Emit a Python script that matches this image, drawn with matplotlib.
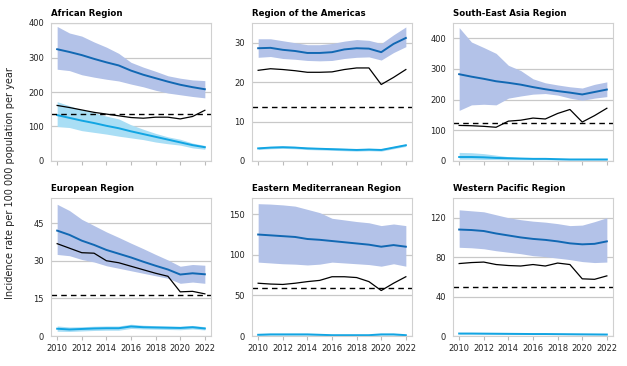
import numpy as np
import matplotlib.pyplot as plt

years = np.arange(2010, 2023)

regions = ['African Region', 'Region of the Americas', 'South-East Asia Region',
           'European Region', 'Eastern Mediterranean Region', 'Western Pacific Region']

# dark blue series (central estimate) and its uncertainty band
dark_mid = [
    [324, 316, 307, 296, 286, 277, 262, 250, 240, 230, 221, 214, 208],
    [28.6, 28.7, 28.2, 27.9, 27.4, 27.4, 27.6, 28.3, 28.6, 28.5, 27.6, 29.7, 31.2],
    [283, 275, 268, 260, 255, 249, 241, 234, 228, 223, 217, 225, 233],
    [42.0, 40.3, 38.0, 36.3, 34.3, 32.8, 31.3, 29.6, 28.0, 26.5, 24.5, 25.0, 24.6],
    [125, 124, 123, 122, 119.5, 118.5, 117, 115.5, 114, 112.5, 110, 112, 110],
    [108, 107.5, 106.5, 104, 102, 100, 98.5, 97.5, 96, 94, 93, 93.5, 96],
]
dark_hi = [
    [390, 371, 362, 345, 330, 312, 286, 272, 260, 247, 240, 235, 233],
    [31, 31, 30.5, 30, 29.5, 29.5, 29.8, 30.4, 30.8, 30.6, 29.8, 32, 34],
    [435, 388, 370, 351, 312, 295, 268, 255, 248, 242, 238, 250, 258],
    [52.5, 50, 46.5, 44, 41.5, 39.3, 37, 34.8, 32.5, 30.3, 27.8, 28.5, 28.2],
    [163, 162.5, 161.5, 160, 156, 152, 145, 143, 141, 139.5, 136, 138, 136],
    [128, 127, 126, 123, 120, 118, 116.5, 115.5, 114, 112, 112.5, 116, 120],
]
dark_lo = [
    [266, 262, 250, 243, 237, 232, 223, 215, 205, 197, 192, 187, 183],
    [26.3, 26.5, 26, 25.8, 25.5, 25.4, 25.5, 26, 26.3, 26.4, 25.6, 27.5, 29],
    [165, 183, 185, 183, 205, 212, 218, 220, 215, 205, 198, 205, 210],
    [32.5, 32, 30.5, 29.5, 28, 27, 26, 25, 24, 23, 21, 21.5, 21],
    [91, 90, 89, 88.5, 87.5, 88.5, 91, 90, 89, 88, 86, 89, 86],
    [90, 89.5, 88.5, 86.5, 85, 83.5, 81.5, 80.5, 79, 77.5, 75.5, 74.5, 75],
]

# light blue series and its band
light_mid = [
    [133, 125, 117, 110, 102, 95, 86, 78, 70, 62, 54, 46, 40],
    [3.2, 3.4, 3.5, 3.4, 3.2, 3.1, 3.0, 2.9, 2.8, 2.9, 2.8, 3.4, 4.0],
    [13, 13, 12, 10, 9, 8, 7, 7, 6, 5, 5, 5, 5],
    [2.9, 2.6, 2.8, 3.0, 3.1, 3.1, 3.8, 3.5, 3.4, 3.3, 3.2, 3.5, 3.0],
    [1.5, 2, 2, 2, 2, 1.5, 1, 1, 1, 1, 2, 2, 1],
    [2.5, 2.5, 2.4, 2.3, 2.2, 2.1, 2.0, 2.0, 1.9, 1.8, 1.7, 1.6, 1.5],
]
light_hi = [
    [172, 160, 148, 140, 130, 122, 105, 92, 80, 70, 63, 52, 45],
    [3.5, 3.7, 3.8, 3.7, 3.5, 3.4, 3.3, 3.2, 3.1, 3.2, 3.1, 3.7, 4.3],
    [28, 27, 24, 19, 14, 11, 9, 8, 7, 6, 6, 6, 6],
    [4.0, 3.6, 3.7, 3.9, 4.0, 4.0, 4.7, 4.3, 4.1, 4.0, 3.9, 4.2, 3.7],
    [2.5, 3, 3, 3, 3, 2.5, 2, 2, 2, 2, 3, 3, 2],
    [3.0, 3.0, 2.9, 2.8, 2.7, 2.6, 2.5, 2.5, 2.4, 2.3, 2.2, 2.1, 2.0],
]
light_lo = [
    [100, 97, 88, 83, 78, 72, 67, 62, 55, 50, 46, 38, 34],
    [2.9, 3.1, 3.2, 3.1, 2.9, 2.8, 2.7, 2.6, 2.5, 2.6, 2.5, 3.1, 3.7],
    [6, 6, 5, 5, 4, 4, 4, 4, 3, 3, 3, 3, 3],
    [1.9, 1.8, 2.0, 2.2, 2.3, 2.3, 3.0, 2.8, 2.7, 2.6, 2.5, 2.8, 2.4],
    [0.5, 1, 1, 1, 1, 0.5, 0, 0, 0, 0, 1, 1, 0],
    [2.0, 2.0, 1.9, 1.8, 1.7, 1.6, 1.5, 1.5, 1.4, 1.3, 1.2, 1.1, 1.0],
]

# black series and dashed reference level
black = [
    [161, 155, 148, 141, 136, 131, 126, 124, 127, 127, 122, 129, 147],
    [23.0, 23.4, 23.2, 22.9, 22.5, 22.5, 22.6, 23.2, 23.6, 23.6, 19.4, 21.2, 23.2],
    [116, 115, 113, 110, 130, 133, 140, 137, 155, 168, 127, 148, 172],
    [36.8, 35.0, 33.2, 33.0, 30.0, 29.2, 27.8, 26.4, 25.0, 23.8, 17.6, 17.8, 16.8],
    [65, 64, 63.5, 65, 67, 68.5, 73, 73, 72, 67, 56, 65, 73],
    [73.5, 74.5, 75, 72.5, 71.5, 71, 72.5, 71, 74, 72.5, 58, 57.5, 61],
]
dashed = [135, 13.7, 125, 16.5, 59, 50]

ylims = [400, 35, 450, 55, 170, 140]
yticks = [[0, 100, 200, 300, 400], [0, 10, 20, 30], [0, 100, 200, 300, 400],
          [0, 15, 30, 45], [0, 50, 100, 150], [0, 40, 80, 120]]

fig = plt.figure(figsize=(6.27, 3.66), dpi=100)
W, H = 627, 366
lefts = [51, 252, 453]
tops = [23, 198]
aw, ah = 160, 138

grid_c = '#c8c8c8'
for i, name in enumerate(regions):
    r, c = divmod(i, 3)
    ax = fig.add_axes([lefts[c] / W, 1 - (tops[r] + ah) / H, aw / W, ah / H])
    ax.fill_between(years, dark_lo[i], dark_hi[i], color='#b3c2e8', lw=0)
    ax.fill_between(years, light_lo[i], light_hi[i], color='#a9def5', lw=0)
    ax.plot(years, dark_mid[i], color='#1168b3', lw=1.4)
    ax.plot(years, light_mid[i], color='#12a5e3', lw=1.4)
    ax.plot(years, black[i], color='black', lw=0.9)
    ax.axhline(dashed[i], color='black', lw=1.0, ls=(0, (4, 3)))
    ax.set_xlim(2009.5, 2022.5)
    ax.set_ylim(0, ylims[i])
    ax.set_yticks(yticks[i])
    ax.set_xticks(range(2010, 2023, 2))
    ax.grid(True, axis='y', color=grid_c, lw=0.9)
    ax.set_axisbelow(True)
    for s in ax.spines.values():
        s.set_color('#d0d0d0')
        s.set_linewidth(0.8)
    ax.tick_params(axis='y', length=0, labelsize=6, pad=5, colors='#222222')
    ax.tick_params(axis='x', length=3, color='#bbbbbb', labelsize=6, pad=3,
                   colors='#222222')
    if r == 0:
        ax.tick_params(axis='x', labelbottom=False)
    ax.set_title(name, loc='left', fontsize=6.2, fontweight='bold', pad=5)

fig.text(10 / W, 0.5, 'Incidence rate per 100 000 population per year',
         rotation=90, va='center', ha='center', fontsize=7, color='#222222')

fig.savefig('out.png', dpi=100)
